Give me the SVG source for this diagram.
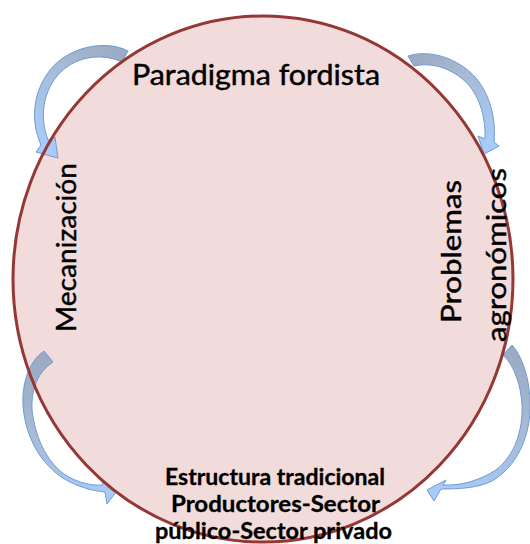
<svg xmlns="http://www.w3.org/2000/svg" width="530" height="544" viewBox="0 0 530 544">
<style>
.lbl{font-family:Lato,"Open Sans","Liberation Sans",sans-serif;fill:#000;stroke:#000;stroke-width:0.45;}
.big{font-size:27px;}
.bold{font-size:22px;font-weight:bold;stroke-width:0.3;}
.arr{stroke:#6E9BD6;stroke-width:1;stroke-linejoin:round;}
</style>
<defs>
<linearGradient id="g1" gradientUnits="userSpaceOnUse" x1="125" y1="56" x2="48" y2="150"><stop offset="0" stop-color="#9CABC3"/><stop offset="0.4" stop-color="#A7BAD6"/><stop offset="1" stop-color="#A8CBF8"/></linearGradient>
<linearGradient id="g2" gradientUnits="userSpaceOnUse" x1="411" y1="61" x2="488" y2="148"><stop offset="0" stop-color="#9CABC3"/><stop offset="0.4" stop-color="#A7BAD6"/><stop offset="1" stop-color="#A8CBF8"/></linearGradient>
<linearGradient id="g3" gradientUnits="userSpaceOnUse" x1="48" y1="356" x2="110" y2="492"><stop offset="0" stop-color="#9CABC3"/><stop offset="0.4" stop-color="#A7BAD6"/><stop offset="1" stop-color="#A8CBF8"/></linearGradient>
<linearGradient id="g4" gradientUnits="userSpaceOnUse" x1="508" y1="350" x2="435" y2="490"><stop offset="0" stop-color="#9CABC3"/><stop offset="0.4" stop-color="#A7BAD6"/><stop offset="1" stop-color="#A8CBF8"/></linearGradient>
</defs>
<rect width="530" height="544" fill="#fff"/>
<g id="ciclo-fondo">
<ellipse cx="263" cy="279" rx="250" ry="263" fill="#F2DCDB"/>
</g>
<g id="conectores">
<path class="arr" fill="url(#g1)" d="M128,51 C108,40 70,45 50,70 C33,92 30,120 41,145 L36,152 L58,158 L55,137 L48,140 C40,118 42,95 57,76 C73,57 100,52 122,62 Z"/>
<path class="arr" fill="url(#g2)" d="M408,56 C430,49 458,58 476,78 C490,95 496,118 494,142 L499,146 L484,154 L478,136 L485,139 C486,118 480,98 468,84 C452,68 432,62 414,66 Z"/>
<path class="arr" fill="url(#g3)" d="M44,351 C28,362 22,385 23,405 C25,440 45,470 70,482 C82,488 94,491 105,492 L107,504 L116,492 L102,481 L103,485 C90,486 76,482 64,474 C45,460 35,435 32,410 C31,388 38,372 53,362 Z"/>
<path class="arr" fill="url(#g4)" d="M512,345 C524,358 531,385 530,410 C529,440 515,468 492,481 C478,488 460,489 441,489 L434,501 L427,490 L446,480 L443,485 C462,486 480,480 496,470 C515,455 523,430 522,405 C521,385 514,365 503,355 Z"/>
</g>
<g id="ciclo-borde">
<ellipse cx="263" cy="279" rx="250" ry="263" fill="none" stroke="#953735" stroke-width="3"/>
</g>
<g id="paradigma">
<text class="lbl big" x="256" y="85" text-anchor="middle" textLength="248" lengthAdjust="spacingAndGlyphs" style="font-size:28px">Paradigma fordista</text>
</g>
<g id="mecanizacion">
<text class="lbl big" transform="translate(76,247.5) rotate(-90)" text-anchor="middle" textLength="169" lengthAdjust="spacingAndGlyphs">Mecanización</text>
</g>
<g id="problemas">
<text class="lbl big" transform="translate(461,251.5) rotate(-90)" text-anchor="middle" textLength="143" lengthAdjust="spacingAndGlyphs">Problemas</text>
<text class="lbl big" transform="translate(506,255) rotate(-90)" text-anchor="middle" textLength="174" lengthAdjust="spacingAndGlyphs">agronómicos</text>
</g>
<g id="estructura">
<text class="lbl bold" x="275" y="485" text-anchor="middle" textLength="220" lengthAdjust="spacingAndGlyphs">Estructura tradicional</text>
<text class="lbl bold" x="275.5" y="512" text-anchor="middle" textLength="209" lengthAdjust="spacingAndGlyphs">Productores-Sector</text>
<text class="lbl bold" x="273.5" y="539" text-anchor="middle" textLength="237" lengthAdjust="spacingAndGlyphs">público-Sector privado</text>
</g>
</svg>
